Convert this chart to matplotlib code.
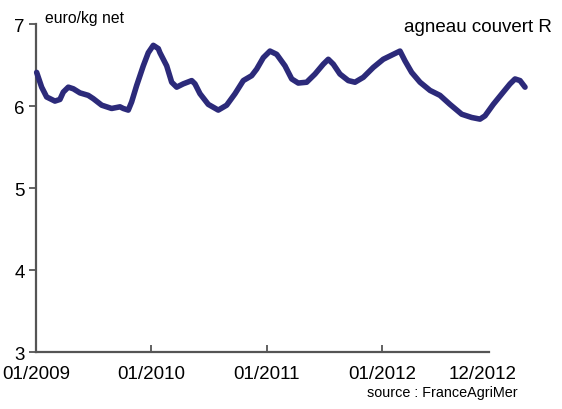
import matplotlib
matplotlib.use("Agg")
import matplotlib.pyplot as plt

plt.rcParams['font.family'] = ['Liberation Sans', 'DejaVu Sans']

# months since 01/2009
months = [0.07, 0.59, 1.11, 1.97, 2.49, 2.84, 3.36, 3.88, 4.57, 5.43, 5.95, 6.83,
          7.86, 8.73, 9.07, 9.59, 9.94, 10.46, 11.15, 11.67, 12.19, 12.71, 12.88,
          13.58, 14.10, 14.62, 15.30, 16.18, 16.52, 17.04, 17.90, 18.94, 19.81,
          20.68, 21.54, 22.41, 22.93, 23.62, 24.31, 25.01, 25.87, 26.57, 27.25,
          28.12, 28.99, 29.85, 30.37, 30.89, 31.58, 32.45, 33.14, 34.01, 35.04,
          36.08, 37.12, 37.82, 38.34, 39.03, 39.90, 40.94, 41.97, 43.01, 44.23,
          45.27, 46.13, 46.65, 47.51, 48.55, 49.25, 49.77, 50.29, 50.81]
prices = [6.41, 6.23, 6.11, 6.06, 6.08, 6.17, 6.23, 6.21, 6.16, 6.13, 6.09, 6.01,
          5.97, 5.99, 5.97, 5.95, 6.05, 6.25, 6.49, 6.65, 6.74, 6.70, 6.65,
          6.49, 6.29, 6.23, 6.27, 6.31, 6.27, 6.15, 6.02, 5.95, 6.01,
          6.15, 6.31, 6.37, 6.45, 6.59, 6.67, 6.63, 6.49, 6.33, 6.28,
          6.29, 6.39, 6.51, 6.57, 6.51, 6.39, 6.31, 6.29, 6.35, 6.47,
          6.57, 6.63, 6.67, 6.55, 6.41, 6.29, 6.19, 6.13, 6.02, 5.90,
          5.86, 5.84, 5.88, 6.02, 6.17, 6.27, 6.33, 6.31, 6.23]

xtick_pos = [0, 12, 24, 36, 46.4]
xtick_labels = ["01/2009", "01/2010", "01/2011", "01/2012", "12/2012"]
ytick_pos = [3, 4, 5, 6, 7]
ytick_labels = ["3", "4", "5", "6", "7"]

fig = plt.figure(figsize=(5.62, 4.10), dpi=100)
ax = fig.add_axes([0.064, 0.139, 0.806, 0.800])

ax.plot(months, prices, color="#2c2a7a", lw=4.0, solid_joinstyle="round",
        solid_capstyle="round", clip_on=False, zorder=3)

ax.set_xlim(0, 47.06)
ax.set_ylim(3, 7)
for s in ["top", "right"]:
    ax.spines[s].set_visible(False)
for s in ["left", "bottom"]:
    ax.spines[s].set_color("#555555")
    ax.spines[s].set_linewidth(1.6)

ax.set_xticks(xtick_pos)
ax.set_xticklabels(xtick_labels, fontsize=13.5)
ax.set_yticks(ytick_pos)
ax.set_yticklabels(ytick_labels, fontsize=13.5)
ax.tick_params(axis="x", direction="in", length=5, width=1.3, color="#555555", pad=9)
ax.tick_params(axis="y", direction="out", length=5, width=1.3, color="#555555", pad=3)
ax.xaxis.get_major_ticks()[-1].tick1line.set_visible(False)

fig.text(45/562, 1 - 19/410, "euro/kg net", fontsize=11.3, ha="left", va="center")
fig.text(552/562, 1 - 27/410, "agneau couvert R", fontsize=13.5, ha="right", va="center")
fig.text(518/562, 1 - 393/410, "source : FranceAgriMer", fontsize=10.4, ha="right", va="center")

fig.savefig("out.png", dpi=100)
